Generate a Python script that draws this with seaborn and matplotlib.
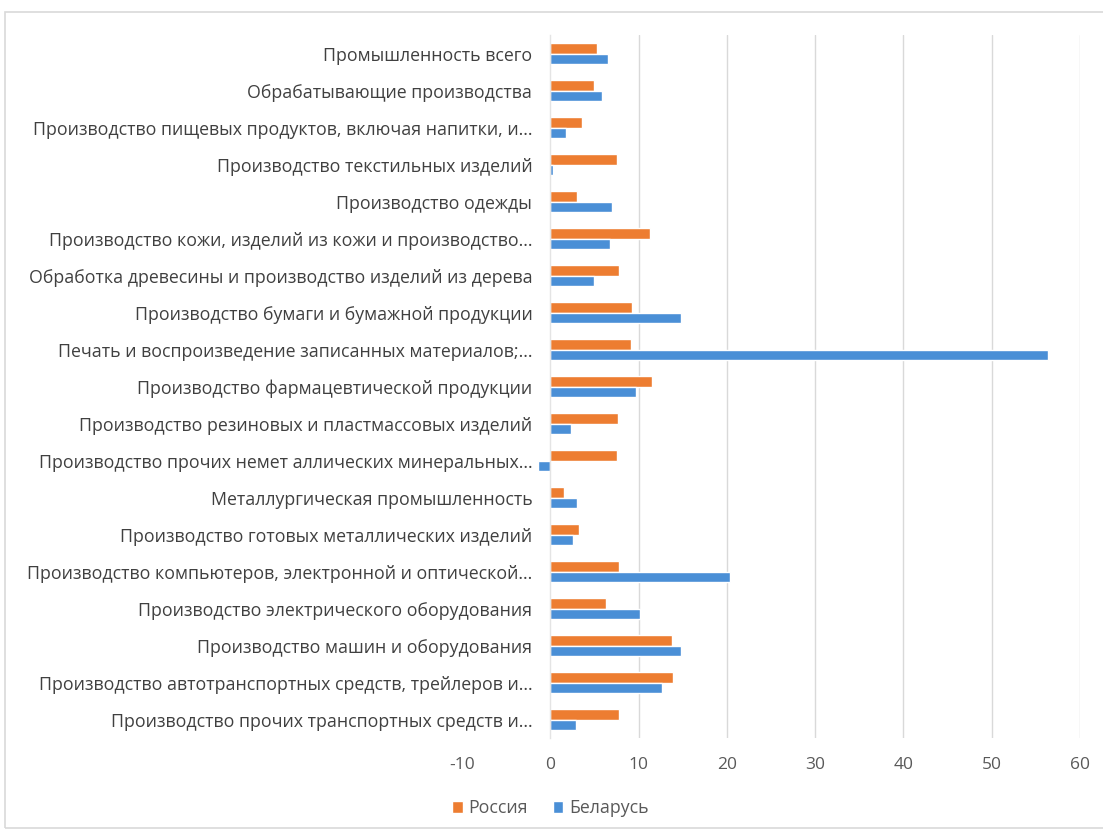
import matplotlib
matplotlib.use("Agg")
import matplotlib.pyplot as plt
import seaborn as sns
import pandas as pd
from matplotlib.patches import Rectangle, Patch

categories = [
    "Промышленность всего",
    "Обрабатывающие производства",
    "Производство пищевых продуктов, включая напитки, и...",
    "Производство текстильных изделий",
    "Производство одежды",
    "Производство кожи, изделий из кожи и производство...",
    "Обработка древесины и производство изделий из дерева",
    "Производство бумаги и бумажной продукции",
    "Печать и воспроизведение записанных материалов;...",
    "Производство фармацевтической продукции",
    "Производство резиновых и пластмассовых изделий",
    "Производство прочих немет аллических минеральных...",
    "Металлургическая промышленность",
    "Производство готовых металлических изделий",
    "Производство компьютеров, электронной и оптической...",
    "Производство электрического оборудования",
    "Производство машин и оборудования",
    "Производство автотранспортных средств, трейлеров и...",
    "Производство прочих транспортных средств и...",
]
russia = [5.3, 5.0, 3.6, 7.5, 3.0, 11.3, 7.8, 9.2, 9.1, 11.5,
          7.7, 7.5, 1.5, 3.3, 7.8, 6.3, 13.8, 13.9, 7.8]
belarus = [6.5, 5.8, 1.8, 0.3, 7.0, 6.8, 5.0, 14.8, 56.4, 9.7,
           2.3, -1.4, 3.0, 2.6, 20.3, 10.2, 14.8, 12.7, 2.9]
series_names = ["Россия", "Беларусь"]
xticks = [-10, 0, 10, 20, 30, 40, 50, 60]

df = pd.DataFrame({
    "category": categories * 2,
    "value": russia + belarus,
    "series": [series_names[0]] * len(categories) + [series_names[1]] * len(categories),
})

sns.set_theme(style="white")
plt.rcParams["font.family"] = ["Open Sans", "DejaVu Sans"]
plt.rcParams["axes.unicode_minus"] = False

colors = {"Россия": "#ED7D31", "Беларусь": "#4A8FD6"}

fig = plt.figure(figsize=(11.03, 8.34), dpi=100)
ax = fig.add_axes([0.4189, 0.1151, 0.9791 - 0.4189, 0.958 - 0.1151])

sns.barplot(data=df, x="value", y="category", hue="series", order=categories,
            hue_order=series_names, palette=colors, width=0.58, ax=ax,
            legend=False, saturation=1)

ax.set_xlim(-10, 60)
ax.set_xticks(xticks)
ax.set_xlabel("")
ax.set_ylabel("")
for t in xticks:
    if t > 0:
        ax.axvline(t, color="#D9D9D9", lw=1, zorder=0)
for s in ["top", "right", "bottom"]:
    ax.spines[s].set_visible(False)
ax.spines["left"].set_position(("data", 0))
ax.spines["left"].set_color("#E4E4E4")
ax.spines["left"].set_linewidth(1)
ax.tick_params(axis="y", length=0, pad=13, labelsize=12.8, labelcolor="#404040")
ax.tick_params(axis="x", length=0, pad=14, labelsize=12.5, labelcolor="#595959")
ax.set_facecolor("none")

handles = [Patch(facecolor=colors[n], label=n) for n in series_names]
fig.legend(handles=handles, loc="center", bbox_to_anchor=(0.499, 0.031), ncol=2,
           frameon=False, fontsize=12.8, handlelength=0.6, handleheight=0.7,
           handletextpad=0.3, columnspacing=1.4, labelcolor="#595959")

fig.patches.append(Rectangle((5 / 1103, 1 - 828 / 834), 1.2, (828 - 12) / 834,
                             transform=fig.transFigure, fill=False,
                             edgecolor="#D9D9D9", lw=1.2, zorder=-1))

fig.savefig("out.png", dpi=100)
